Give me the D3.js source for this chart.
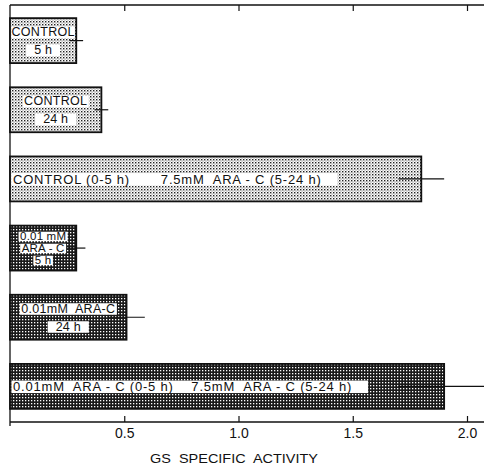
<!DOCTYPE html>
<html>
<head>
<meta charset="utf-8">
<script src="https://cdn.jsdelivr.net/npm/d3@7"></script>
<style>
  body { margin: 0; background: #fff; }
  text { font-family: "Liberation Sans", Arial, sans-serif; fill: #111; }
</style>
</head>
<body>
<div id="chart"></div>
<script>
// bars from top to bottom
var groups = ["c5", "c24", "c7", "a5", "a24", "a7"];
var values = [0.29, 0.40, 1.80, 0.29, 0.51, 1.90];
var errors = [0.03, 0.03, 0.10, 0.04, 0.08, 0.20];
var kinds = ["light", "light", "light", "dark", "dark", "dark"];
var labels = [
  ["CONTROL", "5 h"],
  ["CONTROL", "24 h"],
  ["CONTROL (0-5 h)       7.5mM  ARA - C (5-24 h)"],
  ["0.01 mM", "ARA - C", "5 h"],
  ["0.01mM  ARA-C", "24 h"],
  ["0.01mM  ARA - C (0-5 h)    7.5mM  ARA - C (5-24 h)"]
];
var ticks = [0.5, 1.0, 1.5, 2.0];
var xTitle = "GS  SPECIFIC  ACTIVITY";

var W = 484, H = 467;
var svg = d3.select("#chart").append("svg")
  .attr("width", W).attr("height", H);

var defs = svg.append("defs");
// light stipple
var pl = defs.append("pattern").attr("id", "light")
  .attr("width", 3).attr("height", 3).attr("patternUnits", "userSpaceOnUse");
pl.append("rect").attr("width", 3).attr("height", 3).attr("fill", "#fff");
pl.append("rect").attr("width", 1.4).attr("height", 1.4).attr("fill", "#222");
pl.append("rect").attr("x", 1.5).attr("y", 1.5).attr("width", 1.1).attr("height", 1.1).attr("fill", "#777");
// dark crosshatch
var pd = defs.append("pattern").attr("id", "dark")
  .attr("width", 3).attr("height", 3).attr("patternUnits", "userSpaceOnUse");
pd.append("rect").attr("width", 3).attr("height", 3).attr("fill", "#1a1a1a");
pd.append("rect").attr("x", 1).attr("y", 1).attr("width", 1.3).attr("height", 1.3).attr("fill", "#fff");

var x = d3.scaleLinear().domain([0, 2]).range([10, 467]);
var y = d3.scaleBand().domain(groups).range([5, 422])
  .paddingInner(0.35).paddingOuter(0.19);

var axisY = 422, topY = 5;

// frame lines
svg.append("line").attr("x1", x(0)).attr("x2", W).attr("y1", topY).attr("y2", topY)
  .attr("stroke", "#111").attr("stroke-width", 1.3);
svg.append("line").attr("x1", x(0)).attr("x2", x(0)).attr("y1", topY).attr("y2", axisY + 4)
  .attr("stroke", "#111").attr("stroke-width", 1.3);

// bottom axis, ticks pointing inward
var gx = svg.append("g").attr("transform", "translate(0," + axisY + ")")
  .call(d3.axisTop(x).tickValues(ticks).tickSize(6).tickFormat(""));
gx.select(".domain").remove();
gx.selectAll("line").attr("stroke", "#111").attr("stroke-width", 1.2);
svg.append("line").attr("x1", x(0)).attr("x2", W).attr("y1", axisY).attr("y2", axisY)
  .attr("stroke", "#111").attr("stroke-width", 1.3);
gx.selectAll(".tick").append("text")
  .attr("y", 15.5).attr("text-anchor", "middle")
  .style("font-size", "14px")
  .text(function(d) { return d3.format(".1f")(d); });

// top ticks
var gt = svg.append("g").attr("transform", "translate(0," + topY + ")")
  .call(d3.axisBottom(x).tickValues(ticks).tickSize(6).tickFormat(""));
gt.select(".domain").remove();
gt.selectAll("line").attr("stroke", "#111").attr("stroke-width", 1.2);

svg.append("text")
  .attr("x", 150).attr("y", 463)
  .attr("xml:space", "preserve")
  .style("white-space", "pre")
  .style("font-size", "13.5px")
  .attr("textLength", 168).attr("lengthAdjust", "spacingAndGlyphs")
  .text(xTitle);

// bars
var bars = svg.append("g").selectAll("g").data(groups).enter().append("g");

bars.append("rect")
  .attr("x", x(0))
  .attr("y", function(d) { return y(d); })
  .attr("width", function(d, i) { return x(values[i]) - x(0); })
  .attr("height", y.bandwidth())
  .attr("fill", function(d, i) { return "url(#" + kinds[i] + ")"; })
  .attr("stroke", "#111").attr("stroke-width", 1.8);

// error lines
bars.append("line")
  .attr("x1", function(d, i) { return x(values[i] - errors[i]); })
  .attr("x2", function(d, i) { return x(values[i] + errors[i]); })
  .attr("y1", function(d) { return y(d) + y.bandwidth() / 2; })
  .attr("y2", function(d) { return y(d) + y.bandwidth() / 2; })
  .attr("stroke", "#111").attr("stroke-width", 1.2);

// labels in white boxes
bars.each(function(d, i) {
  var g = d3.select(this);
  var lines = labels[i];
  var three = lines.length === 3;
  var single = lines.length === 1;
  var lh = three ? 12 : 18;
  var fs = three ? 11.5 : (single ? 13 : 12.5);
  var cy = y(d) + y.bandwidth() / 2 - (lines.length - 1) * lh / 2;
  var bw = x(values[i]) - x(0);
  lines.forEach(function(t, k) {
    var tx = single ? x(0) + 3 : x(0) + bw / 2;
    var txt = g.append("text")
      .attr("x", tx)
      .attr("y", cy + k * lh)
      .attr("dy", "0.36em")
      .attr("text-anchor", single ? "start" : "middle")
      .style("font-size", fs + "px")
      .style("letter-spacing", single ? "0.8px" : (k === 0 && !three ? "0.3px" : "0.2px"))
      .style("white-space", "pre")
      .attr("xml:space", "preserve")
      .text(t);
    var bb = txt.node().getBBox();
    var padL = single || k === 0 || three ? 1.5 : 8;
    var padR = single ? 16 : padL;
    var left = Math.max(x(0) + 1.5, bb.x - padL);
    var right = Math.min(x(0) + bw - 1.5, bb.x + bb.width + padR);
    if (single) right = bb.x + bb.width + padR;
    g.insert("rect", function() { return txt.node(); })
      .attr("x", left).attr("y", bb.y + 1.5)
      .attr("width", right - left).attr("height", bb.height - 2.5)
      .attr("fill", "#fff");
  });
});
</script>
</body>
</html>
